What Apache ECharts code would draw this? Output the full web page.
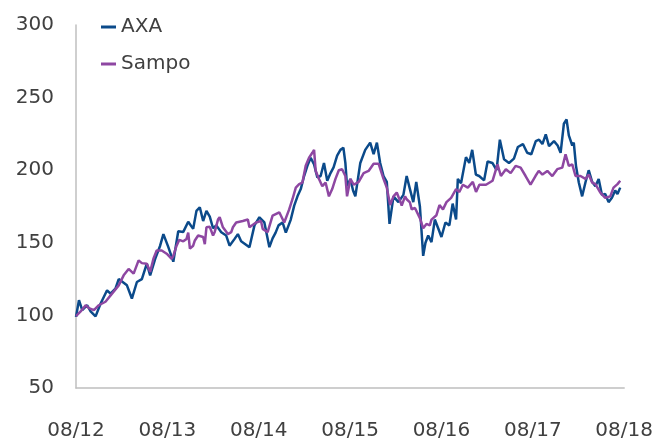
<!DOCTYPE html>
<html>
<head>
<meta charset="utf-8">
<script src="https://cdn.jsdelivr.net/npm/echarts@6/dist/echarts.min.js"></script>
<style>
  body { margin: 0; background: #fff; }
  #chart { width: 656px; height: 441px; }
</style>
</head>
<body>
<div id="chart"></div>
<script>
// x = months since 08/12, values rebased to 100
var xLabels = ['08/12', '08/13', '08/14', '08/15', '08/16', '08/17', '08/18'];
var yTicks = [50, 100, 150, 200, 250, 300];

var axaMonths = [0,0.39,0.82,1.47,1.92,2.57,3.22,4.08,4.53,5.18,
  5.61,6.69,7.34,8.0,8.65,9.3,9.74,10.4,11.05,11.48,
  12.13,12.78,13.43,14.09,14.74,15.39,15.82,16.26,16.7,17.13,
  17.57,18.0,18.43,19.08,19.73,20.17,20.83,21.26,21.69,21.91,
  22.78,23.44,24.09,24.74,25.4,25.82,26.22,26.6,27.13,27.56,
  28.21,28.66,29.09,29.52,29.96,30.39,30.82,31.27,31.7,32.13,
  32.57,33.0,33.43,33.83,34.3,34.73,35.12,35.38,35.6,36.04,
  36.39,36.69,37.34,37.99,38.64,39.09,39.52,39.95,40.39,40.82,
  41.18,41.7,42.35,43.0,43.43,43.86,44.3,44.69,45.17,45.6,
  45.9,46.26,46.69,47.13,47.57,48.0,48.52,49.04,49.47,49.92,
  50.15,50.57,51.22,51.65,52.04,52.52,52.95,53.6,54.06,54.69,
  55.24,55.67,56.22,56.87,57.52,58.04,58.7,59.26,59.8,60.39,
  60.82,61.26,61.7,62.13,62.78,63.26,63.65,64.08,64.43,64.73,
  65.18,65.38,65.67,66.04,66.48,66.91,67.34,67.79,68.22,68.65,
  69.08,69.51,69.95,70.39,70.82,71.12,71.48];
var axaValues = [99,110.5,103.6,107,102.7,99.3,108,117.3,115,118.5,
  125,120.7,111.6,123,125,135.6,127.6,139,148,156,
  147,137,158,157.5,164.5,159.6,172,174.5,165,172,
  168,160,162,157.3,155,148,152.7,156,151,150.5,
  147,162,167.6,164,147,153,157,162,164,157,
  166,175.6,182,187,196,203,208.6,204,195,196,
  205,192.7,198,202,210,214,215.5,205,189,194,
  186,182,205,214,219,211,219,205,196,192,
  163,182,178,183,196,187,178,192,175,141,
  150,155,150.5,166,160,154,164,162,177,166,
  194,191,209,205,214,197,196,193,206,205,
  200,221,207.5,205,208,216,218,212,211,220,
  221,218,224.7,216.6,220,217,212,232,235,224,
  217,219,203,191.5,182,191.5,200,192,189,194,
  183,183.6,178,181,186,183.6,188];

var sampoMonths = [0,0.61,1.27,1.7,2.35,3.0,3.87,4.73,5.61,6.26,
  6.91,7.57,8.22,8.65,9.3,9.74,10.17,10.6,11.26,11.91,
  12.56,12.78,13.21,13.56,14.09,14.52,14.74,14.96,15.39,15.61,
  16.04,16.26,16.7,16.92,17.13,17.57,18.0,18.22,18.65,18.87,
  19.3,19.52,19.95,20.39,20.61,21.04,21.26,21.91,22.57,22.78,
  23.0,23.65,24.3,24.52,25.17,25.82,26.7,27.35,28.0,28.43,
  28.87,29.31,29.74,30.17,30.61,31.04,31.27,31.48,31.92,32.35,
  32.78,33.22,33.65,34.08,34.52,34.95,35.38,35.6,36.04,36.47,
  37.13,37.78,38.43,39.09,39.74,40.39,40.82,41.26,41.7,42.13,
  42.56,42.78,43.22,43.43,43.86,44.09,44.52,45.17,45.6,46.03,
  46.47,46.69,47.34,47.74,48.2,48.66,49.27,49.92,50.35,50.81,
  51.46,52.12,52.54,52.98,53.85,54.71,55.36,55.81,56.46,57.09,
  57.74,58.4,59.05,59.7,60.35,60.78,61.26,61.91,62.56,63.21,
  63.87,64.3,64.73,65.18,65.61,66.26,66.91,67.34,67.79,68.22,
  68.87,69.51,70.17,70.6,71.12,71.48];
var sampoValues = [99.5,102.7,107,105,103.6,107,109.4,115,120.7,127.6,
  132,128.8,137.9,136,135.6,130,139,144.7,144.7,142.5,
  139,141,148,152,151,152.7,157,146,148,151.6,
  155,154,154,149,160.7,161,155,157.5,166,167.6,
  160.7,159.6,156,157.3,160.7,164,163,165,166,160.7,
  160.7,164,165,159.6,157.3,168.7,171,164,173,180,
  188,190.4,191.5,203,208.6,212,214,199.5,194,189,
  191.5,182,187,194,200,200.7,196,182,194,190,
  192,198,199.5,204.5,204.5,194,188,176,182,184.6,
  179,175.6,182,180,177.8,173,174,167,160,163,
  162,166,169,176,173,178,181,187,185,190,
  188,192,185,190,190,192.7,204,196,200.7,198,
  203,201.8,196,190,196,199.5,197,199.5,196,200.7,
  201.8,211,203,204,196,196,194,197,191.5,190.4,
  184.6,181,182,188,190.4,192.7];

function pairs(xs, ys) {
  var out = [];
  for (var i = 0; i < xs.length; i++) out.push([xs[i], ys[i]]);
  return out;
}

var font = 'DejaVu Sans';
var chart = echarts.init(document.getElementById('chart'));
chart.setOption({
  animation: false,
  grid: { left: 76, right: 27, top: 25, bottom: 52, containLabel: false },
  legend: {
    orient: 'vertical',
    left: 96,
    top: 12,
    itemWidth: 15,
    itemHeight: 3,
    itemGap: 17,
    icon: 'rect',
    textStyle: { fontFamily: font, fontSize: 20, color: '#404040' },
    data: ['AXA', 'Sampo']
  },
  xAxis: {
    type: 'value',
    min: 0,
    max: 72,
    interval: 12,
    axisLine: { show: true, lineStyle: { color: '#bfbfbf', width: 1.5 } },
    axisTick: { show: false },
    splitLine: { show: false },
    axisLabel: {
      margin: 33,
      fontFamily: font,
      fontSize: 20,
      color: '#404040',
      formatter: function (v) { return xLabels[Math.round(v / 12)]; }
    }
  },
  yAxis: {
    type: 'value',
    min: yTicks[0],
    max: yTicks[yTicks.length - 1],
    interval: 50,
    axisLine: { show: true, lineStyle: { color: '#bfbfbf', width: 1.5 } },
    axisTick: { show: false },
    splitLine: { show: false },
    axisLabel: { margin: 22, fontFamily: font, fontSize: 20, color: '#404040' }
  },
  series: [
    {
      name: 'AXA',
      type: 'line',
      showSymbol: false,
      data: pairs(axaMonths, axaValues),
      itemStyle: { color: '#0b4a8a' },
      lineStyle: { color: '#0b4a8a', width: 2.5 }
    },
    {
      name: 'Sampo',
      type: 'line',
      showSymbol: false,
      data: pairs(sampoMonths, sampoValues),
      itemStyle: { color: '#8e47a2' },
      lineStyle: { color: '#8e47a2', width: 2.5 }
    }
  ]
});
window.addEventListener('resize', function () {
  chart.resize();
});
</script>
</body>
</html>
